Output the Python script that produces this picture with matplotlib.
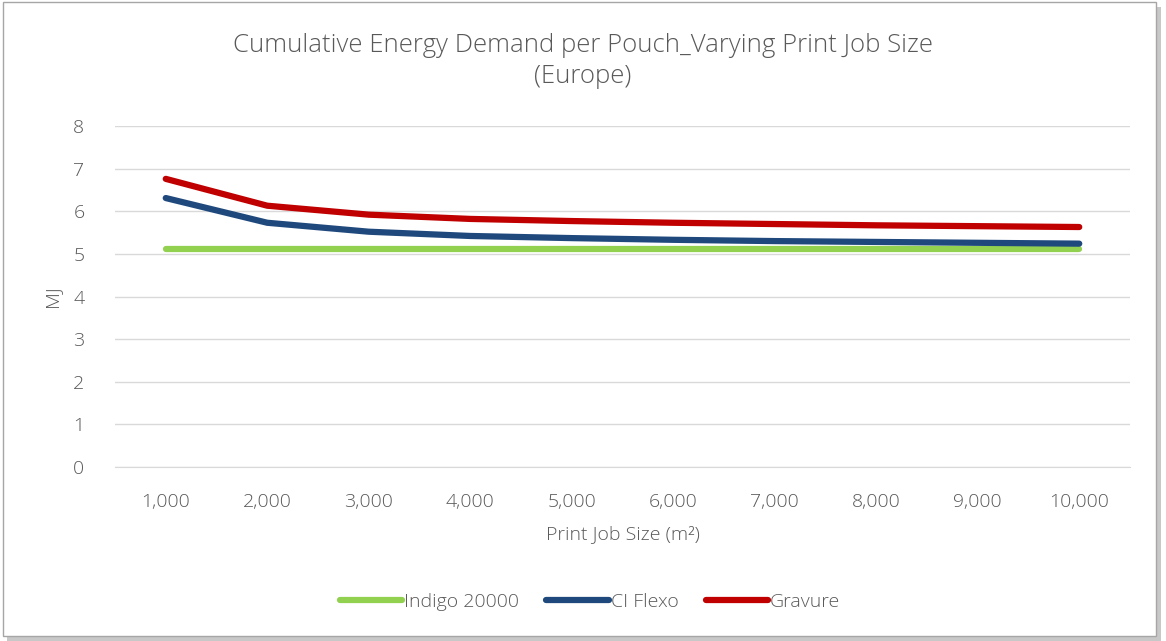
import numpy as np
import matplotlib.pyplot as plt
from matplotlib.patches import Rectangle

plt.rcParams['font.family'] = ['Open Sans', 'DejaVu Sans']

job_sizes = ['1,000', '2,000', '3,000', '4,000', '5,000', '6,000', '7,000', '8,000', '9,000', '10,000']
indigo = [5.12, 5.12, 5.12, 5.12, 5.12, 5.12, 5.12, 5.12, 5.12, 5.12]
ci_flexo = [6.31, 5.73, 5.52, 5.42, 5.37, 5.33, 5.30, 5.28, 5.26, 5.24]
gravure = [6.76, 6.13, 5.92, 5.82, 5.77, 5.73, 5.70, 5.67, 5.65, 5.63]

txt = '#595959'

fig = plt.figure(figsize=(11.66, 6.41), dpi=100)

# outer frame with shadow
fig.patches.append(Rectangle((7/1166, 0/641), 1154/1166, 634/641, transform=fig.transFigure,
                             facecolor='#c8c8c8', edgecolor='none', zorder=0))
fig.patches.append(Rectangle((3/1166, 5/641), 1153/1166, 634/641, transform=fig.transFigure,
                             facecolor='white', edgecolor='#a6a6a6', linewidth=1, zorder=1))

ax = fig.add_axes([115/1166, 1 - 467/641, (1130 - 115)/1166, (467 - 126)/641])
ax.set_zorder(2)
ax.patch.set_alpha(0)

x = np.arange(len(job_sizes))
ax.plot(x, indigo, color='#92d050', lw=4.5, solid_capstyle='round', label='Indigo 20000')
ax.plot(x, ci_flexo, color='#1f497d', lw=4.5, solid_capstyle='round', label='CI Flexo')
ax.plot(x, gravure, color='#c00000', lw=4.5, solid_capstyle='round', label='Gravure')

ax.set_xlim(-0.5, len(job_sizes) - 0.5)
ax.set_ylim(0, 8)
ax.set_yticks(range(0, 9))
ax.set_xticks(x)
ax.set_xticklabels(job_sizes)
ax.grid(axis='y', color='#d9d9d9', lw=1)
ax.set_axisbelow(True)
for s in ['top', 'right', 'left']:
    ax.spines[s].set_visible(False)
ax.spines['bottom'].set_color('#d9d9d9')
ax.tick_params(length=0, labelsize=14, labelcolor=txt)
ax.tick_params(axis='x', pad=19)
ax.tick_params(axis='y', pad=22)
for lab in ax.get_xticklabels() + ax.get_yticklabels():
    lab.set_fontweight('light')

ax.set_xlabel('Print Job Size (m²)', fontsize=14, color=txt, fontweight='light', labelpad=10)
ax.set_ylabel('MJ', fontsize=14, color=txt, fontweight='light', labelpad=9)

fig.text(0.5, 1 - 61/641, 'Cumulative Energy Demand per Pouch_Varying Print Job Size\n(Europe)',
         ha='center', va='center', fontsize=18.5, color=txt, fontweight='light', linespacing=1.3)

fig.legend(loc='center', bbox_to_anchor=(590/1166, 1 - 602/641), ncol=3, frameon=False,
           labelcolor=txt, handlelength=3.2, handletextpad=0.1, columnspacing=1.4,
           prop={'weight': 'light', 'size': 14})

fig.savefig('out.png', dpi=100)
